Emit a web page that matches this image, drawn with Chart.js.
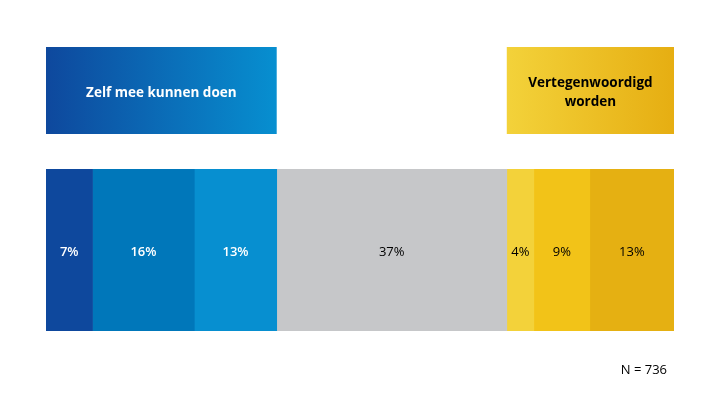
<!DOCTYPE html>
<html>
<head>
<meta charset="utf-8">
<script src="https://cdn.jsdelivr.net/npm/chart.js@4"></script>
<style>
    html, body { margin: 0; padding: 0; background: #fff; }
    #wrap { width: 720px; height: 405px; }
</style>
</head>
<body>
<div id="wrap"><canvas id="chart" width="720" height="405"></canvas></div>
<script>
// segment values (percent)
const segmentValues = [7.4, 16.2, 13.1, 36.6, 4.3, 8.9, 13.4];
const segmentColors = ['#0E489D', '#0077BA', '#078FD0', '#C6C7C9', '#F3D23A', '#F2C318', '#E5B012'];
const labelColors = ['#fff', '#fff', '#fff', '#000', '#000', '#000', '#000'];
const headerBlue = ['Zelf mee kunnen doen'];
const headerYellow = ['Vertegenwoordigd', 'worden'];
const footNote = 'N = 736';

const total = segmentValues.reduce((a, b) => a + b, 0);

const datasets = segmentValues.map((v, i) => ({
    data: [v],
    backgroundColor: segmentColors[i],
    borderWidth: 0,
    barPercentage: 1,
    categoryPercentage: 1
}));

const overlayPlugin = {
    id: 'overlay',
    afterDatasetsDraw(chart) {
        const ctx = chart.ctx;
        const x = chart.scales.x;
        const cum = [0];
        segmentValues.forEach(v => cum.push(cum[cum.length - 1] + v));

        // value labels
        chart.data.datasets.forEach((ds, i) => {
            const bar = chart.getDatasetMeta(i).data[0];
            ctx.save();
            ctx.fillStyle = labelColors[i];
            ctx.font = (i < 3 ? '600 ' : '400 ') + '13px "Open Sans", sans-serif';
            ctx.textAlign = 'center';
            ctx.textBaseline = 'middle';
            ctx.fillText(Math.round(segmentValues[i]) + '%', (bar.base + bar.x) / 2, bar.y + 2);
            ctx.restore();
        });

        // header boxes
        const top = 47, bottom = 134;
        const drawBox = (from, to, c1, c2, lines, txtColor) => {
            const x1 = x.getPixelForValue(cum[from]);
            const x2 = x.getPixelForValue(cum[to]);
            const g = ctx.createLinearGradient(x1, 0, x2, 0);
            g.addColorStop(0, c1);
            g.addColorStop(1, c2);
            ctx.save();
            ctx.fillStyle = g;
            ctx.fillRect(x1, top, x2 - x1, bottom - top);
            ctx.fillStyle = txtColor;
            ctx.font = 'bold 13.5px "Open Sans", sans-serif';
            ctx.textAlign = 'center';
            ctx.textBaseline = 'middle';
            const mid = (top + bottom) / 2 + 2.5;
            const lh = 19;
            lines.forEach((t, k) => {
                ctx.fillText(t, (x1 + x2) / 2, mid + (k - (lines.length - 1) / 2) * lh);
            });
            ctx.restore();
        };
        drawBox(0, 3, '#0E489D', '#078FD0', headerBlue, '#fff');
        drawBox(4, 7, '#F3D23A', '#E6AE12', headerYellow, '#000');

        // footnote
        ctx.save();
        ctx.fillStyle = '#000';
        ctx.font = '13px "Open Sans", sans-serif';
        ctx.textAlign = 'right';
        ctx.textBaseline = 'middle';
        ctx.fillText(footNote, 667, 370);
        ctx.restore();
    }
};

new Chart(document.getElementById('chart'), {
    type: 'bar',
    data: { labels: [''], datasets: datasets },
    options: {
        indexAxis: 'y',
        responsive: false,
        animation: false,
        layout: { padding: { left: 46, right: 46, top: 169, bottom: 74 } },
        plugins: { legend: { display: false }, tooltip: { enabled: false } },
        scales: {
            x: { stacked: true, display: false, min: 0, max: total },
            y: { stacked: true, display: false }
        }
    },
    plugins: [overlayPlugin]
});
</script>
</body>
</html>
